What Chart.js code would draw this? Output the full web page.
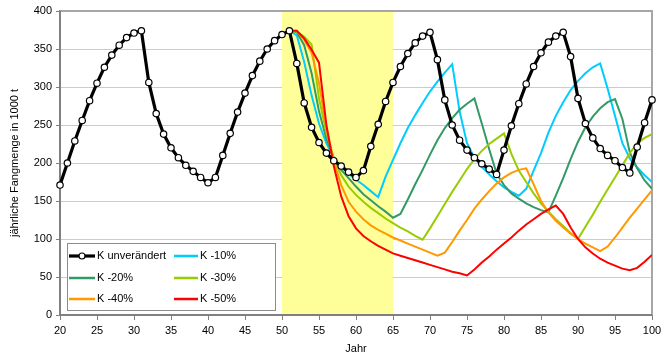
<!DOCTYPE html>
<html><head><meta charset="utf-8">
<script src="https://cdn.jsdelivr.net/npm/chart.js@4"></script>
<style>html,body{margin:0;padding:0;background:#fff;}#wrap{width:672px;height:356px;}</style>
</head><body><div id="wrap"><canvas id="c" width="672" height="356"></canvas></div>
<script>
// ---- data ----
const yearsAll = [20,21,22,23,24,25,26,27,28,29,30,31,32,33,34,35,36,37,38,39,40,41,42,43,44,45,46,47,48,49,50,
  51,52,53,54,55,56,57,58,59,60,61,62,63,64,65,66,67,68,69,70,71,72,73,74,75,76,77,78,79,80,
  81,82,83,84,85,86,87,88,89,90,91,92,93,94,95,96,97,98,99,100];
const yearsScen = yearsAll.slice(31); // 51..100

const kUnchanged = [171,200,229,256,282,305,326,342,355,365,371,374,306,265,238,220,207,197,189,181,174,
  181,210,239,267,292,315,334,350,361,369,374,331,279,247,227,213,203,196,188,181,
  190,222,251,281,306,327,344,358,367,372,336,283,250,230,217,207,199,192,185,217,
  249,278,304,327,345,359,367,372,340,285,252,233,219,210,203,194,187,221,253,283];
const kMinus10 = [374,368,333,289,252,226,207,195,186,178,171,163,155,182,204,226,246,263,279,294,
  307,319,330,268,226,207,195,185,176,168,162,157,166,190,213,240,262,280,296,308,
  318,326,331,298,262,226,206,194,184,175];
const kMinus20 = [374,372,355,318,268,232,207,191,180,169,159,151,143,136,128,133,152,172,191,211,
  230,246,259,270,278,285,252,218,186,171,160,153,147,142,138,135,157,180,205,228,
  247,261,272,280,284,258,214,193,177,166];
const kMinus30 = [374,373,366,356,285,240,206,184,169,158,149,141,134,127,121,115,110,104,99,114,
  130,146,162,177,192,205,216,225,232,239,212,190,175,160,147,136,126,117,108,100,
  116,132,149,165,181,197,213,226,233,238];
const kMinus40 = [374,374,362,345,305,245,203,171,149,136,126,118,112,107,102,98,94,90,86,82,
  78,82,96,111,125,140,152,163,173,181,187,191,193,172,150,135,124,115,107,100,
  94,89,84,90,102,115,128,140,152,164];
const kMinus50 = [374,374,364,349,332,250,196,156,130,114,104,97,91,86,81,78,75,72,69,66,
  63,60,57,55,52,60,69,77,86,94,102,111,119,126,133,139,144,133,115,100,
  89,81,74,69,65,61,59,62,70,79];

const seriesLabels = ['K unverändert','K -10%','K -20%','K -30%','K -40%','K -50%'];
const seriesColors = ['#000000','#00ccff','#339966','#99cc00','#ff9900','#ff0000'];
const highlight = [50, 65];
const xTicks = [20, 100, 5];
const yTicks = [0, 400, 50];

// ---- build ----
const FONT = "'Liberation Sans', Arial, sans-serif";
Chart.defaults.font.family = FONT;
Chart.defaults.font.size = 11;
Chart.defaults.color = '#000';

function pts(xs, ys){ return ys.map((v,i)=>({x:xs[i], y:v})); }

const scenValues = [kMinus10,kMinus20,kMinus30,kMinus40,kMinus50];
const datasets = [{
  label: seriesLabels[0], data: pts(yearsAll, kUnchanged), borderColor: seriesColors[0],
  borderWidth: 3.2, pointRadius: 3.2, pointBackgroundColor: '#fff', pointBorderColor: '#000',
  pointBorderWidth: 1.2, order: 0, tension: 0, clip: 8
}];
scenValues.forEach((vals, i) => {
  datasets.push({label: seriesLabels[i+1], data: pts(yearsScen, vals), borderColor: seriesColors[i+1],
    borderWidth: 2, pointRadius: 0, order: 5 - i, tension: 0});
});

const framePlugin = {
  id: 'frame',
  beforeDatasetsDraw(chart){
    const {ctx, chartArea:{top,bottom,left,right}, scales:{x}} = chart;
    const x1 = x.getPixelForValue(highlight[0]), x2 = x.getPixelForValue(highlight[1]);
    ctx.save();
    ctx.fillStyle = '#ffff99';
    ctx.fillRect(x1, top, x2-x1, bottom-top);
    ctx.strokeStyle = '#a6a6a6';
    ctx.lineWidth = 2;
    ctx.beginPath();
    ctx.moveTo(left, top); ctx.lineTo(right, top); ctx.lineTo(right, bottom);
    ctx.stroke();
    ctx.strokeStyle = '#808080';
    ctx.beginPath();
    ctx.moveTo(left, top); ctx.lineTo(left, bottom); ctx.lineTo(right, bottom);
    ctx.stroke();
    ctx.restore();
  },
  afterDatasetsDraw(chart){
    const {ctx} = chart;
    ctx.save();
    const bx = 67, by = 243, bw = 208, bh = 67;
    ctx.fillStyle = '#fff';
    ctx.fillRect(bx, by, bw, bh);
    ctx.strokeStyle = '#8c8c8c'; ctx.lineWidth = 1;
    ctx.strokeRect(bx+0.5, by+0.5, bw, bh);
    const cols = [{l:69, r:95, t:97}, {l:174, r:198, t:200}];
    const rows = [256, 278, 299];
    ctx.font = '11px ' + FONT;
    ctx.textBaseline = 'middle';
    chart.data.datasets.forEach((ds, i) => {
      const c = cols[i % 2], y = rows[Math.floor(i/2)];
      ctx.strokeStyle = ds.borderColor;
      ctx.lineWidth = i === 0 ? 3.2 : 2.5;
      ctx.beginPath(); ctx.moveTo(c.l, y); ctx.lineTo(c.r, y); ctx.stroke();
      if (i === 0) {
        ctx.beginPath(); ctx.arc((c.l+c.r)/2, y, 3, 0, Math.PI*2);
        ctx.fillStyle = '#fff'; ctx.fill();
        ctx.lineWidth = 1.2; ctx.strokeStyle = '#000'; ctx.stroke();
      }
      ctx.fillStyle = '#000';
      ctx.fillText(ds.label, c.t, y);
    });
    ctx.restore();
  }
};

new Chart(document.getElementById('c'), {
  type: 'line',
  data: { datasets },
  plugins: [framePlugin],
  options: {
    responsive: false, animation: false, devicePixelRatio: 1,
    layout: { padding: { top: 11, right: 20, left: 0, bottom: 0 } },
    plugins: { legend: { display: false }, tooltip: { enabled: false } },
    scales: {
      x: {
        type: 'linear', min: xTicks[0], max: xTicks[1],
        ticks: { stepSize: xTicks[2], padding: 4, color: '#000', font: { size: 11 } },
        grid: { drawOnChartArea: false, tickLength: 5, color: '#808080', lineWidth: 1 },
        border: { color: '#808080', width: 2 },
        title: { display: true, text: 'Jahr', color: '#000', font: { size: 11 }, padding: { top: 0, bottom: 0 } },
        afterFit(s){ s.height = 41; }
      },
      y: {
        min: yTicks[0], max: yTicks[1],
        ticks: { stepSize: yTicks[2], padding: 4, color: '#000', font: { size: 11 } },
        grid: { color: '#cccccc', lineWidth: 1, tickLength: 4, tickColor: '#808080' },
        border: { color: '#808080', width: 2 },
        title: { display: true, text: 'jährliche Fangmenge in 1000 t', color: '#000', font: { size: 11 }, padding: { top: 8, bottom: 0 } },
        afterFit(s){ s.width = 60; }
      }
    }
  }
});
</script></body></html>
